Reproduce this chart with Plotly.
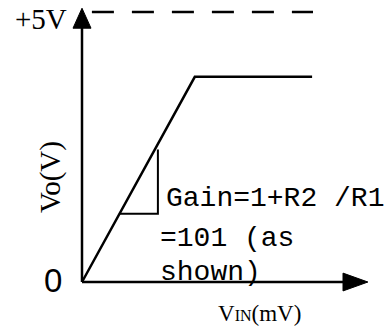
import plotly.graph_objects as go

# transfer curve of the amplifier: Vin in mV, Vo in V
vin_mv = [0, 37.6, 76.7]
vo_v = [0, 3.8, 3.8]
gain = 101
supply_v = 5.0
supply_line_mv = [3.3, 77.0]
slope_mark_mv = [12.5, 25.3]   # little triangle showing the slope
x_axis_end_mv = 95.3
y_axis_end_v = 5.07

gain_lines = ["Gain=1+R2 /R1", "=101 (as", "shown)"]

# view window (mV / V); the page body has an 8px margin, so the figure is a bit smaller
x_range = [-24.667, 103.333]
y_range = [-0.907, 5.074]

fig = go.Figure()

# supply level, dashed
fig.add_trace(go.Scatter(
    x=supply_line_mv, y=[supply_v, supply_v], mode='lines',
    line=dict(color='black', width=2.5, dash='22px,18px')))

# axes
fig.add_trace(go.Scatter(
    x=[0, 0, None, 0, x_axis_end_mv - 8], y=[y_axis_end_v - 0.35, 0, None, 0, 0],
    mode='lines', line=dict(color='black', width=2.5)))

# arrow heads
ax_w = 3.0     # half width of head in mV
ax_h = 0.37    # head length in V
fig.add_trace(go.Scatter(
    x=[-ax_w, 0, ax_w, -ax_w], y=[y_axis_end_v - ax_h, y_axis_end_v, y_axis_end_v - ax_h, y_axis_end_v - ax_h],
    mode='lines', fill='toself', fillcolor='black', line=dict(color='black', width=1)))
hy = 0.165
fig.add_trace(go.Scatter(
    x=[x_axis_end_mv - 8.3, x_axis_end_mv, x_axis_end_mv - 8.3, x_axis_end_mv - 8.3], y=[-hy, 0, hy, -hy],
    mode='lines', fill='toself', fillcolor='black', line=dict(color='black', width=1)))

# transfer curve
fig.add_trace(go.Scatter(x=vin_mv, y=vo_v, mode='lines',
                         line=dict(color='black', width=2.5)))

# slope triangle
lo = slope_mark_mv[0] * gain / 1000
hi = slope_mark_mv[1] * gain / 1000
fig.add_trace(go.Scatter(
    x=[slope_mark_mv[0], slope_mark_mv[1], slope_mark_mv[1]], y=[lo, lo, hi - 0.1],
    mode='lines', line=dict(color='black', width=2)))

serif = 'Liberation Serif'
ann = [
    dict(x=0, y=supply_v, text='+5V', xanchor='right', yanchor='middle', xshift=-13, yshift=-7,
         font=dict(family=serif, size=29)),
    dict(x=0, y=0, text='0', xanchor='right', yanchor='middle', xshift=-18, yshift=2,
         font=dict(family='Liberation Sans', size=33)),
    dict(x=0, y=1.944, text='Vo(V)', textangle=-90, xanchor='center', yanchor='middle', xshift=-32,
         font=dict(family=serif, size=29)),
    dict(x=59, y=0, text="V<span style='font-size:16px'>IN</span>(mV)", xanchor='center', yanchor='middle',
         yshift=-31, font=dict(family=serif, size=23)),
]
mono = 'Liberation Mono'
gx = [27.3, 25.4, 25.4]
gy = [1.55, 0.81, 0.17]
for t, x, y in zip(gain_lines, gx, gy):
    ann.append(dict(x=x, y=y, text=t, xanchor='left', yanchor='middle',
                    font=dict(family=mono, size=28)))
for a in ann:
    a.update(showarrow=False, xref='x', yref='y')
    a['font']['color'] = 'black'

fig.update_layout(
    width=384, height=323, margin=dict(l=0, r=0, t=0, b=0),
    plot_bgcolor='white', paper_bgcolor='white', showlegend=False,
    xaxis=dict(range=x_range, visible=False, fixedrange=True),
    yaxis=dict(range=y_range, visible=False, fixedrange=True),
    annotations=ann,
)

fig.write_html("out.html")
